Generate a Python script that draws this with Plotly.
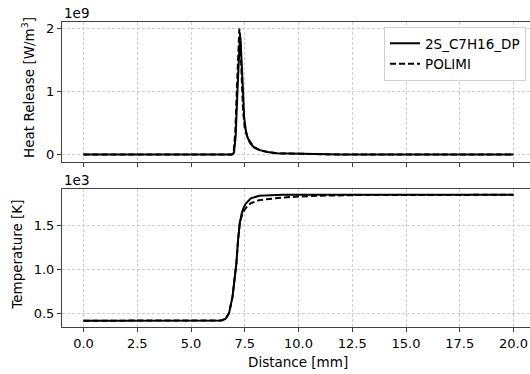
import plotly.graph_objects as go
from plotly.subplots import make_subplots

# ---- data ----
hrr_dp_x = [0, 6.9, 7.0, 7.08, 7.16, 7.22, 7.27, 7.3, 7.33, 7.37, 7.42, 7.47, 7.55, 7.63, 7.75, 7.94, 8.2, 8.56, 9.0, 10.0, 12.0, 20.0]
hrr_dp_y = [0, 0.0, 0.03, 0.3, 1.0, 1.55, 1.82, 1.85, 1.7, 1.35, 1.0, 0.6, 0.38, 0.27, 0.18, 0.11, 0.07, 0.04, 0.02, 0.01, 0.0, 0.0]
hrr_pol_x = [0, 6.9, 6.98, 7.06, 7.14, 7.2, 7.25, 7.28, 7.32, 7.37, 7.42, 7.5, 7.6, 7.75, 7.94, 8.2, 8.56, 9.0, 10.0, 12.0, 20.0]
hrr_pol_y = [0, 0.0, 0.03, 0.35, 1.1, 1.7, 1.99, 1.9, 1.5, 1.05, 0.7, 0.42, 0.3, 0.2, 0.12, 0.07, 0.04, 0.02, 0.01, 0.0, 0.0]

t_dp_x = [0, 6.0, 6.4, 6.6, 6.77, 6.93, 7.03, 7.11, 7.19, 7.27, 7.36, 7.45, 7.55, 7.78, 8.17, 9.26, 20.0]
t_dp_y = [420, 420, 423, 440, 505, 690, 880, 1070, 1340, 1530, 1640, 1705, 1750, 1810, 1840, 1850, 1850]
t_pol_x = [0, 6.0, 6.4, 6.6, 6.77, 6.93, 7.03, 7.11, 7.19, 7.27, 7.36, 7.45, 7.55, 7.78, 8.17, 9.26, 10.0, 11.0, 13.0, 20.0]
t_pol_y = [420, 420, 423, 440, 505, 690, 880, 1070, 1340, 1530, 1610, 1665, 1700, 1755, 1790, 1820, 1830, 1840, 1848, 1850]

x_ticks = [0, 2.5, 5, 7.5, 10, 12.5, 15, 17.5, 20]
x_tick_text = ["0.0", "2.5", "5.0", "7.5", "10.0", "12.5", "15.0", "17.5", "20.0"]
hrr_ticks = [0, 1, 2]
t_ticks = [0.5, 1.0, 1.5]
t_tick_text = ["0.5", "1.0", "1.5"]

names = ["2S_C7H16_DP", "POLIMI"]

# ---- figure ----
W, H = 530, 374
L, R, T = 62, 0, 22
B = H - 327.3
plot_w = W - L - R
plot_h = H - T - B


def py(pix):
    return (H - B - pix) / plot_h


def px(pix):
    return (pix - L) / plot_w


fig = make_subplots(rows=2, cols=1, shared_xaxes=True)

FONT = "DejaVu Sans"
FS = 13.5
TFS = 13
lw = 2

fig.add_trace(go.Scatter(x=hrr_dp_x, y=hrr_dp_y, mode="lines",
                         line=dict(color="black", width=lw), name=names[0]), row=1, col=1)
fig.add_trace(go.Scatter(x=hrr_pol_x, y=hrr_pol_y, mode="lines",
                         line=dict(color="black", width=lw, dash="6px,3px"), name=names[1]), row=1, col=1)
fig.add_trace(go.Scatter(x=t_dp_x, y=[v / 1000 for v in t_dp_y], mode="lines",
                         line=dict(color="black", width=lw), name=names[0], showlegend=False), row=2, col=1)
fig.add_trace(go.Scatter(x=t_pol_x, y=[v / 1000 for v in t_pol_y], mode="lines",
                         line=dict(color="black", width=lw, dash="6px,3px"), name=names[1], showlegend=False), row=2, col=1)

xr = [-1, -1 + plot_w / 21.5]
grid = dict(showgrid=True, gridcolor="#cfcfcf", gridwidth=0.8, griddash="3px,2px", zeroline=False)
axline = dict(showline=True, linecolor="#404040", linewidth=1, ticks="outside", ticklen=4,
              tickcolor="#404040", tickfont=dict(family=FONT, size=TFS, color="black"))

fig.update_xaxes(range=xr, tickvals=x_ticks, ticktext=x_tick_text, mirror=True, **grid, **axline)
fig.update_xaxes(showticklabels=False, row=1, col=1)
fig.update_yaxes(**grid, **axline)

fig.update_layout(
    width=W, height=H,
    margin=dict(l=L, r=R, t=T, b=B),
    plot_bgcolor="white", paper_bgcolor="white",
    font=dict(family=FONT, size=FS, color="black"),
    yaxis=dict(domain=[py(161.7), 1.0], range=[-0.11, 2.095], tickvals=hrr_ticks),
    yaxis2=dict(domain=[0, py(188.7)], range=[0.3485, 1.9215], tickvals=t_ticks, ticktext=t_tick_text),
    legend=dict(x=px(526), y=py(27), xanchor="right", yanchor="top",
                bgcolor="rgba(255,255,255,0.9)", bordercolor="#d0d0d0", borderwidth=1,
                font=dict(family=FONT, size=FS, color="black"), tracegroupgap=0),
    showlegend=True,
)

ann = [
    dict(text="1e9", x=0, y=1.0, xref="paper", yref="paper", xanchor="left", yanchor="bottom",
         showarrow=False, font=dict(family=FONT, size=FS), yshift=-1),
    dict(text="1e3", x=0, y=py(188.7), xref="paper", yref="paper", xanchor="left", yanchor="bottom",
         showarrow=False, font=dict(family=FONT, size=FS), yshift=-1),
    dict(text="Heat Release [W/m<sup>3</sup>]", x=px(28), y=py(88), xref="paper", yref="paper",
         xanchor="center", yanchor="middle",
         textangle=-90, showarrow=False, font=dict(family=FONT, size=FS)),
    dict(text="Temperature [K]", x=px(17), y=py(255), xref="paper", yref="paper",
         xanchor="center", yanchor="middle",
         textangle=-90, showarrow=False, font=dict(family=FONT, size=FS)),
    dict(text="Distance [mm]", x=px(298), y=py(362), xref="paper", yref="paper",
         xanchor="center", yanchor="middle",
         showarrow=False, font=dict(family=FONT, size=FS)),
]
fig.update_layout(annotations=ann)

fig.write_html(
    "out.html",
    config={"displayModeBar": False},
    post_script="document.body.style.margin='0px';document.body.style.overflow='hidden';",
)
